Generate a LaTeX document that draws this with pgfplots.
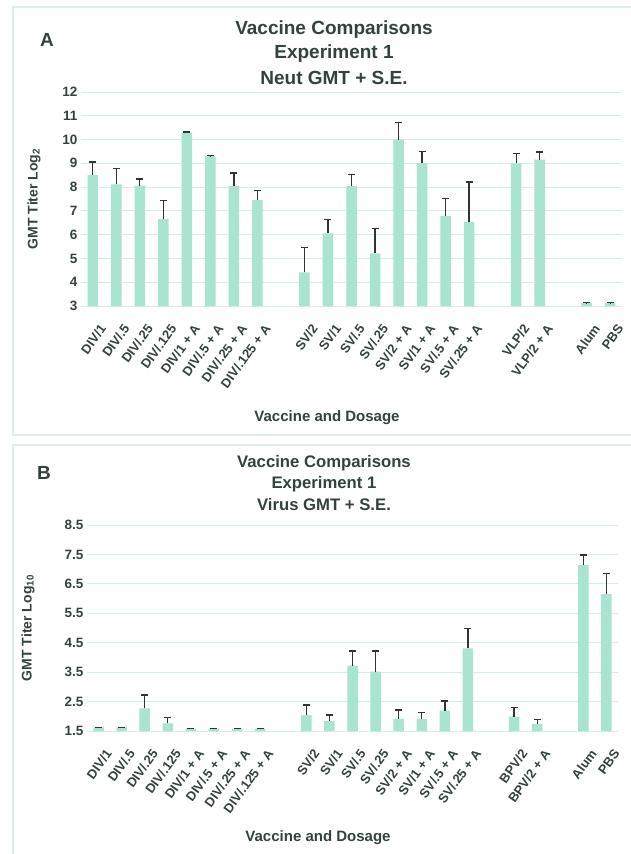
\documentclass[border=0pt]{standalone}
\usepackage{fontspec}
\setmainfont{Liberation Sans}
\usepackage{pgfplots}
\pgfplotsset{compat=1.18}
\usepackage{pgfplotstable}

\definecolor{barc}{HTML}{A8E4CF}
\definecolor{gridc}{HTML}{D2EEE6}
\definecolor{txt}{HTML}{34423F}
\definecolor{framec}{HTML}{E0ECE8}

% Panel A: Neut GMT (log2)
\pgfplotstableread{
x y e
0 8.50 0.55
1 8.12 0.65
2 8.06 0.28
3 6.65 0.80
4 10.30 0.02
5 9.30 0.02
6 8.04 0.55
7 7.45 0.42
9 4.41 1.05
10 6.05 0.60
11 8.04 0.50
12 5.21 1.04
13 10.00 0.72
14 9.00 0.51
15 6.78 0.74
16 6.54 1.68
18 9.00 0.40
19 9.16 0.32
21 3.12 0.02
22 3.12 0.02
}\dataA

% Panel B: Virus GMT (log10)
\pgfplotstableread{
x y e
0 1.62 0.01
1 1.62 0.01
2 2.27 0.45
3 1.76 0.20
4 1.58 0.01
5 1.58 0.01
6 1.58 0.01
7 1.58 0.01
9 2.04 0.34
10 1.84 0.20
11 3.72 0.50
12 3.52 0.70
13 1.91 0.30
14 1.90 0.22
15 2.19 0.33
16 4.31 0.68
18 1.99 0.31
19 1.74 0.16
21 7.14 0.34
22 6.15 0.70
}\dataB

\pgfplotsset{
  myaxis/.style={
    scale only axis,
    xmin=-0.5, xmax=22.5,
    ybar, bar width=10.5pt, bar shift=0pt,
    axis line style={draw=none},
    ymajorgrids, grid style={gridc, line width=0.9pt},
    major tick length=0pt,
    xtick={0,1,2,3,4,5,6,7,9,10,11,12,13,14,15,16,18,19,21,22},
    /pgf/number format/assume math mode=true,
    yticklabel style={font=\fontsize{13.5}{14}\selectfont\bfseries, text=txt},
    xticklabel style={rotate=54, anchor=east, font=\fontsize{13}{14}\selectfont\bfseries, text=txt, inner sep=1pt, yshift=-20pt, xshift=-9pt},
    clip=false,
  },
  mybar/.style={fill=barc, draw=none,
    error bars/.cd, y dir=plus, y explicit,
    error bar style={black!80, line width=1.3pt},
    error mark options={black!80, line width=1.3pt, mark size=3.5pt, rotate=90}},
}

\begin{document}
\begin{tikzpicture}
\useasboundingbox (0pt,0pt) rectangle (631pt,-854pt);
\fill[white] (0pt,0pt) rectangle (631pt,-854pt);
\draw[framec, line width=1.6pt] (13pt,-7pt) rectangle (645pt,-435pt);
\draw[framec, line width=1.6pt] (13pt,-445pt) rectangle (645pt,-870pt);

% ---------------- Panel A ----------------
\node[text=txt, font=\fontsize{19}{20}\selectfont\bfseries] at (47pt,-40pt) {A};
\node[text=txt, font=\fontsize{19}{20}\selectfont\bfseries] at (334pt,-30pt) {Vaccine Comparisons};
\node[text=txt, font=\fontsize{19}{20}\selectfont\bfseries] at (334pt,-54pt) {Experiment 1};
\node[text=txt, font=\fontsize{19}{20}\selectfont\bfseries] at (334pt,-78pt) {Neut GMT + S.E.};
\node[text=txt, rotate=90, font=\fontsize{14}{16}\selectfont\bfseries] at (34pt,-199pt) {GMT Titer Log\textsubscript{2}};
\node[text=txt, font=\fontsize{15}{17}\selectfont\bfseries] at (327pt,-418pt) {Vaccine and Dosage};

\begin{axis}[myaxis,
  at={(81pt,-306pt)}, anchor=south west,
  width=541pt, height=214pt,
  ymin=3, ymax=12,
  ytick={3,4,5,6,7,8,9,10,11,12},
  yticklabels={3,4,5,6,7,8,9,10,11,12},
  xticklabels={DIV/1,DIV/.5,DIV/.25,DIV/.125,DIV/1 + A,DIV/.5 + A,DIV/.25 + A,DIV/.125 + A,SV/2,SV/1,SV/.5,SV/.25,SV/2 + A,SV/1 + A,SV/.5 + A,SV/.25 + A,VLP/2,VLP/2 + A,Alum,PBS},
]
\addplot[mybar] table[x=x, y=y, y error=e] {\dataA};
\end{axis}

% ---------------- Panel B ----------------
\node[text=txt, font=\fontsize{19}{20}\selectfont\bfseries] at (44pt,-473pt) {B};
\node[text=txt, font=\fontsize{16.7}{20}\selectfont\bfseries] at (324pt,-463pt) {Vaccine Comparisons};
\node[text=txt, font=\fontsize{16.7}{20}\selectfont\bfseries] at (324pt,-484pt) {Experiment 1};
\node[text=txt, font=\fontsize{16.7}{20}\selectfont\bfseries] at (324pt,-505pt) {Virus GMT + S.E.};
\node[text=txt, rotate=90, font=\fontsize{14}{16}\selectfont\bfseries] at (28pt,-628pt) {GMT Titer Log\textsubscript{10}};
\node[text=txt, font=\fontsize{15}{17}\selectfont\bfseries] at (318pt,-838pt) {Vaccine and Dosage};

\begin{axis}[myaxis,
  at={(87pt,-731pt)}, anchor=south west,
  width=531pt, height=206pt,
  ymin=1.5, ymax=8.5,
  ytick={1.5,2.5,3.5,4.5,5.5,6.5,7.5,8.5},
  yticklabels={1.5,2.5,3.5,4.5,5.5,6.5,7.5,8.5},
  xticklabels={DIV/1,DIV/.5,DIV/.25,DIV/.125,DIV/1 + A,DIV/.5 + A,DIV/.25 + A,DIV/.125 + A,SV/2,SV/1,SV/.5,SV/.25,SV/2 + A,SV/1 + A,SV/.5 + A,SV/.25 + A,BPV/2,BPV/2 + A,Alum,PBS},
]
\addplot[mybar] table[x=x, y=y, y error=e] {\dataB};
\end{axis}
\end{tikzpicture}
\end{document}
